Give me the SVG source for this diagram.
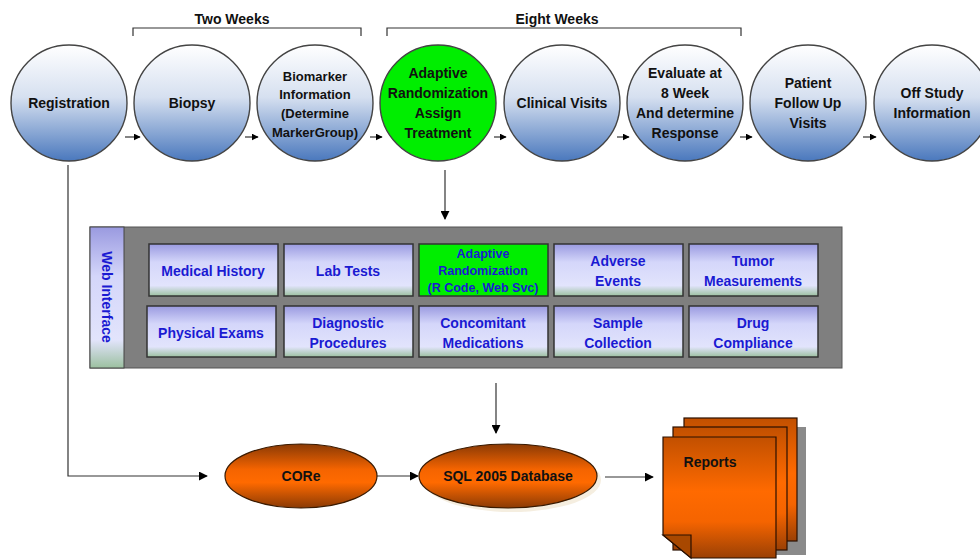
<svg xmlns="http://www.w3.org/2000/svg" width="980" height="560" viewBox="0 0 980 560">
<defs>
<linearGradient id="gCircle" x1="0" y1="0" x2="0" y2="1">
<stop offset="0" stop-color="#ffffff"/>
<stop offset="0.45" stop-color="#d6e0f0"/>
<stop offset="1" stop-color="#4a78bd"/>
</linearGradient>
<linearGradient id="gBtn" x1="0" y1="0" x2="0" y2="1">
<stop offset="0" stop-color="#9a9ae0"/>
<stop offset="0.35" stop-color="#d4d6fa"/>
<stop offset="0.8" stop-color="#e2e4fc"/>
<stop offset="1" stop-color="#9cc0a0"/>
</linearGradient>
<linearGradient id="gOrange" x1="0" y1="0" x2="0" y2="1">
<stop offset="0" stop-color="#8a3a05"/>
<stop offset="0.4" stop-color="#f56400"/>
<stop offset="0.6" stop-color="#ff6a00"/>
<stop offset="1" stop-color="#8a3a05"/>
</linearGradient>
<linearGradient id="gPage" x1="0" y1="0" x2="0" y2="1">
<stop offset="0" stop-color="#c25000"/>
<stop offset="0.45" stop-color="#ff6a00"/>
<stop offset="0.7" stop-color="#f56400"/>
<stop offset="1" stop-color="#9a4005"/>
</linearGradient>
<marker id="arr" viewBox="0 0 10 10" refX="9" refY="5" markerWidth="7" markerHeight="7" markerUnits="userSpaceOnUse" orient="auto">
<path d="M0,0 L10,5 L0,10 z" fill="#000"/>
</marker>
<marker id="arrL" viewBox="0 0 10 10" refX="9" refY="5" markerWidth="9" markerHeight="9" markerUnits="userSpaceOnUse" orient="auto">
<path d="M0,0 L10,5 L0,10 z" fill="#000"/>
</marker>
</defs>
<style>
.circ{fill:url(#gCircle);stroke:#444;stroke-width:1.4}
.green{fill:#00ee00;stroke:#444;stroke-width:1.4}
.t{font-family:"Liberation Sans",Arial,sans-serif;font-weight:bold;font-size:14px;fill:#111;text-anchor:middle}
.ts{font-size:13px}
.bt{font-family:"Liberation Sans",Arial,sans-serif;font-weight:bold;font-size:14px;fill:#1a1ad2;text-anchor:middle}
.small{font-size:12.5px}
.btn{fill:url(#gBtn);stroke:#333;stroke-width:1.5}
.line{fill:none;stroke:#333;stroke-width:1.2}
.ell{fill:url(#gOrange);stroke:#3a1a00;stroke-width:1.2}
.page{fill:url(#gPage);stroke:#2a1000;stroke-width:1.2}
</style>
<rect width="980" height="560" fill="#fff"/>

<g id="brackets">
<path class="line" d="M133,36 V28 H361 V36"/>
<text class="t" x="232" y="24">Two Weeks</text>
<path class="line" d="M387,36 V28 H741 V36"/>
<text class="t" x="557" y="24">Eight Weeks</text>
</g>

<g id="connectors">
<line class="line" x1="125" y1="137" x2="140" y2="137" marker-end="url(#arr)"/>
<line class="line" x1="245" y1="137" x2="258" y2="137" marker-end="url(#arr)"/>
<line class="line" x1="370" y1="137" x2="382" y2="137" marker-end="url(#arr)"/>
<line class="line" x1="494" y1="137" x2="506" y2="137" marker-end="url(#arr)"/>
<line class="line" x1="617" y1="137" x2="629" y2="137" marker-end="url(#arr)"/>
<line class="line" x1="740" y1="137" x2="752" y2="137" marker-end="url(#arr)"/>
<line class="line" x1="863" y1="137" x2="876" y2="137" marker-end="url(#arr)"/>
<line class="line" x1="445" y1="170" x2="445" y2="219" marker-end="url(#arrL)"/>
<path class="line" d="M68,165 V476 H207" marker-end="url(#arrL)"/>
<line class="line" x1="377" y1="476" x2="418" y2="476" marker-end="url(#arrL)"/>
<line class="line" x1="496" y1="383" x2="496" y2="433" marker-end="url(#arrL)"/>
<line class="line" x1="605" y1="477" x2="653" y2="477" marker-end="url(#arrL)"/>
</g>

<g id="registration"><circle class="circ" cx="69" cy="103" r="58"/><text class="t" x="69" y="108">Registration</text></g>
<g id="biopsy"><circle class="circ" cx="192" cy="103" r="58"/><text class="t" x="192" y="108">Biopsy</text></g>
<g id="biomarker"><circle class="circ" cx="315" cy="103" r="58"/>
<text class="t ts" x="315" y="81">Biomarker</text><text class="t ts" x="315" y="99">Information</text><text class="t ts" x="315" y="118">(Determine</text><text class="t ts" x="315" y="137">MarkerGroup)</text></g>
<g id="adaptive"><circle class="green" cx="438" cy="103" r="58"/>
<text class="t" x="438" y="78">Adaptive</text><text class="t" x="438" y="98">Randomization</text><text class="t" x="438" y="118">Assign</text><text class="t" x="438" y="138">Treatment</text></g>
<g id="clinical"><circle class="circ" cx="562" cy="103" r="58"/><text class="t" x="562" y="108">Clinical Visits</text></g>
<g id="evaluate"><circle class="circ" cx="685" cy="103" r="58"/>
<text class="t" x="685" y="78">Evaluate at</text><text class="t" x="685" y="98">8 Week</text><text class="t" x="685" y="118">And determine</text><text class="t" x="685" y="138">Response</text></g>
<g id="followup"><circle class="circ" cx="808" cy="103" r="58"/>
<text class="t" x="808" y="88">Patient</text><text class="t" x="808" y="108">Follow Up</text><text class="t" x="808" y="128">Visits</text></g>
<g id="offstudy"><circle class="circ" cx="932" cy="103" r="58"/>
<text class="t" x="932" y="98">Off Study</text><text class="t" x="932" y="118">Information</text></g>

<g id="web-interface">
<rect x="90" y="227" width="752" height="141" fill="#7f7f7f" stroke="#555" stroke-width="1"/>
<rect x="90" y="227" width="34" height="141" fill="url(#gBtn)" stroke="#444" stroke-width="1"/>
<text class="bt" transform="translate(102,297) rotate(90)">Web Interface</text>
</g>

<g id="medical-history"><rect class="btn" x="149" y="244" width="129" height="52"/><text class="bt" x="213" y="276">Medical History</text></g>
<g id="lab-tests"><rect class="btn" x="284" y="244" width="129" height="52"/><text class="bt" x="348" y="276">Lab Tests</text></g>
<g id="adaptive-rand"><rect x="419" y="244" width="129" height="52" fill="#00ee00" stroke="#333" stroke-width="1.5"/>
<text class="bt small" x="483" y="258">Adaptive</text><text class="bt small" x="483" y="275">Randomization</text><text class="bt small" x="483" y="292">(R Code, Web Svc)</text></g>
<g id="adverse-events"><rect class="btn" x="554" y="244" width="129" height="52"/><text class="bt" x="618" y="266">Adverse</text><text class="bt" x="618" y="286">Events</text></g>
<g id="tumor"><rect class="btn" x="689" y="244" width="129" height="52"/><text class="bt" x="753" y="266">Tumor</text><text class="bt" x="753" y="286">Measurements</text></g>

<g id="physical-exams"><rect class="btn" x="147" y="306" width="129" height="51"/><text class="bt" x="211" y="338">Physical Exams</text></g>
<g id="diagnostic"><rect class="btn" x="284" y="306" width="129" height="51"/><text class="bt" x="348" y="328">Diagnostic</text><text class="bt" x="348" y="348">Procedures</text></g>
<g id="concomitant"><rect class="btn" x="419" y="306" width="129" height="51"/><text class="bt" x="483" y="328">Concomitant</text><text class="bt" x="483" y="348">Medications</text></g>
<g id="sample"><rect class="btn" x="554" y="306" width="129" height="51"/><text class="bt" x="618" y="328">Sample</text><text class="bt" x="618" y="348">Collection</text></g>
<g id="drug"><rect class="btn" x="689" y="306" width="129" height="51"/><text class="bt" x="753" y="328">Drug</text><text class="bt" x="753" y="348">Compliance</text></g>

<g id="core"><ellipse class="ell" cx="301" cy="476" rx="76" ry="32"/><text class="t" x="301" y="481">CORe</text></g>
<g id="sql"><ellipse cx="512" cy="480" rx="89" ry="32" fill="#f3ead8" opacity="0.8"/><ellipse class="ell" cx="508" cy="476" rx="89" ry="32"/><text class="t" x="508" y="481">SQL 2005 Database</text></g>

<g id="reports">
<rect x="692" y="427" width="114" height="128" fill="#8a8a8a"/>
<rect class="page" x="684" y="418" width="113" height="123"/>
<rect class="page" x="673" y="427" width="114" height="123"/>
<path class="page" d="M663,437 H776 V558 H691 L663,535 Z"/>
<path d="M663,535 L691,535 L691,558 Z" fill="#a84800" stroke="#2a1000" stroke-width="1.2"/>
<text class="t" x="710" y="467">Reports</text>
</g>
</svg>
